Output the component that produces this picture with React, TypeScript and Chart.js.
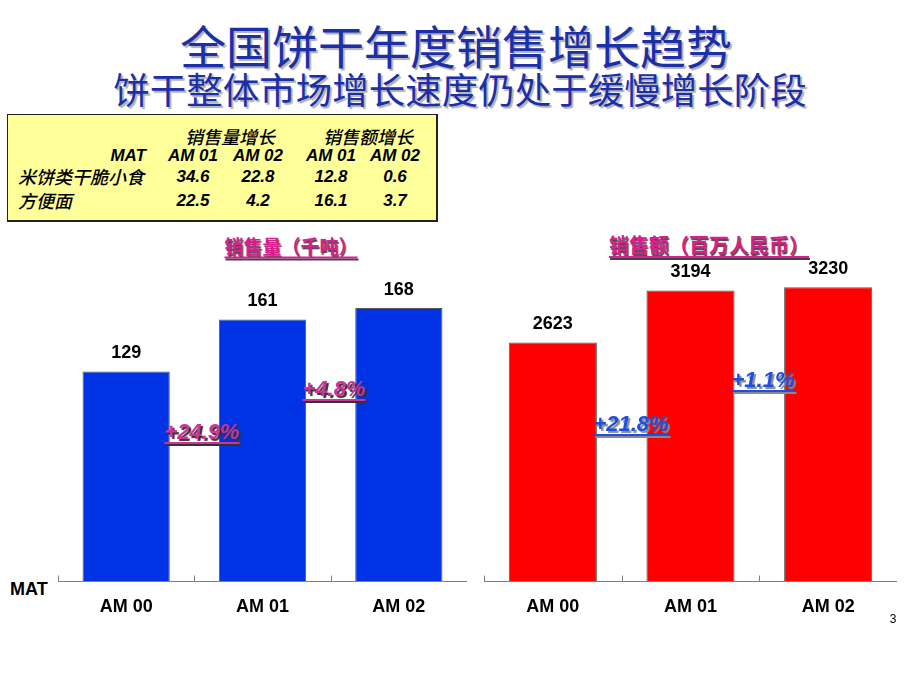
import React, { useEffect, useRef } from "react";
import { Chart, registerables } from "chart.js";

Chart.register(...registerables);

const categories = ["AM 00", "AM 01", "AM 02"];
const volumeValues = [129, 161, 168];
const salesValues = [2623, 3194, 3230];
const volumeGrowth = ["+24.9%", "+4.8%"];
const salesGrowth = ["+21.8%", "+1.1%"];

const tableGroups = ["销售量增长", "销售额增长"];
const tableColumns = ["AM 01", "AM 02", "AM 01", "AM 02"];
const tableRowLabels = ["米饼类干脆小食", "方便面"];
const riceSnackGrowth = [34.6, 22.8, 12.8, 0.6];
const noodleGrowth = [22.5, 4.2, 16.1, 3.7];

const LATIN = '"Liberation Sans", Arial, "Noto Sans CJK SC", sans-serif';
const CJK = '"Noto Sans CJK SC", "Liberation Sans", sans-serif';

const axisPlugin = {
  id: "catAxis",
  afterDatasetsDraw(chart: any) {
    const { ctx, chartArea } = chart;
    const n = chart.data.labels.length;
    const step = (chartArea.right - chartArea.left) / n;
    ctx.save();
    ctx.strokeStyle = "#808080";
    ctx.lineWidth = 1;
    ctx.beginPath();
    const y = Math.round(chartArea.bottom) + 0.5;
    ctx.moveTo(chartArea.left, y);
    ctx.lineTo(chartArea.right, y);
    for (let i = 0; i <= n; i++) {
      const x = Math.round(chartArea.left + i * step) + 0.5;
      ctx.moveTo(x, y);
      ctx.lineTo(x, y - 6);
    }
    ctx.stroke();
    ctx.restore();
  },
};

const valueLabelPlugin = {
  id: "valueLabels",
  afterDatasetsDraw(chart: any) {
    const { ctx } = chart;
    const meta = chart.getDatasetMeta(0);
    const data = chart.data.datasets[0].data;
    ctx.save();
    ctx.fillStyle = "#000";
    ctx.font = `bold 18px ${LATIN}`;
    ctx.textAlign = "center";
    ctx.textBaseline = "middle";
    meta.data.forEach((bar: any, i: number) => {
      ctx.fillText(String(data[i]), bar.x, bar.y - 18);
    });
    ctx.restore();
  },
};

function BarChart(props: {
  values: number[];
  color: string;
  max: number;
  width: number;
  height: number;
  left: number;
  top: number;
}) {
  const ref = useRef<HTMLCanvasElement | null>(null);
  useEffect(() => {
    if (!ref.current) return;
    const chart = new Chart(ref.current, {
      type: "bar",
      data: {
        labels: categories,
        datasets: [
          {
            data: props.values,
            backgroundColor: props.color,
            borderColor: "#5a5a5a",
            borderWidth: 1,
            barPercentage: 0.64,
            categoryPercentage: 1,
          },
        ],
      },
      options: {
        animation: false,
        responsive: false,
        events: [],
        layout: { padding: 0 },
        plugins: { legend: { display: false }, tooltip: { enabled: false } },
        scales: {
          x: {
            grid: { display: false, drawTicks: false },
            border: { display: false },
            ticks: {
              color: "#000",
              padding: 15,
              font: { family: LATIN, size: 18, weight: "bold" },
            },
          },
          y: { display: false, min: 0, max: props.max },
        },
      },
      plugins: [axisPlugin, valueLabelPlugin],
    } as any);
    return () => chart.destroy();
  }, []);
  return (
    <canvas
      ref={ref}
      width={props.width}
      height={props.height}
      style={{ position: "absolute", left: props.left, top: props.top }}
    />
  );
}

function Pos(props: { x: number; y: number; style?: React.CSSProperties; children: React.ReactNode; align?: string }) {
  const tx = props.align === "right" ? "-100%" : props.align === "left" ? "0" : "-50%";
  return (
    <div
      style={{
        position: "absolute",
        left: props.x,
        top: props.y,
        transform: `translate(${tx}, -50%)`,
        whiteSpace: "nowrap",
        lineHeight: 1,
        ...props.style,
      }}
    >
      {props.children}
    </div>
  );
}

export default function App() {
  const tableText: React.CSSProperties = {
    fontFamily: LATIN,
    fontSize: 17,
    fontWeight: "bold",
    fontStyle: "italic",
    color: "#000",
  };
  const tableCjk: React.CSSProperties = { ...tableText, fontFamily: CJK, fontSize: 18, fontWeight: 500 };
  const colX = [193, 258, 331, 395];
  const groupX = [230, 368];
  const pctMagenta: React.CSSProperties = {
    fontFamily: LATIN,
    fontSize: 22,
    fontWeight: "bold",
    fontStyle: "italic",
    color: "#cc3399",
    textDecoration: "underline",
    textDecorationThickness: 2,
    textUnderlineOffset: 3,
    textShadow: "2px 2px 1px #333",
  };
  const pctBlue: React.CSSProperties = {
    ...pctMagenta,
    color: "#1f4fe0",
    textShadow: "2px 2px 1px #8a8a8a",
  };
  const chartTitle: React.CSSProperties = {
    fontFamily: CJK,
    fontSize: 19,
    fontWeight: "bold",
    color: "#d81f8f",
    textDecoration: "underline",
    textDecorationThickness: 2,
    textUnderlineOffset: 3,
    textShadow: "1px 2px 1px #444",
  };
  return (
    <div
      style={{
        position: "absolute",
        left: 0,
        top: 0,
        width: 920,
        height: 690,
        background: "#fff",
        overflow: "hidden",
        fontFamily: LATIN,
      }}
    >
      <Pos x={456} y={44} style={{ fontFamily: CJK, fontSize: 46, fontWeight: 400, color: "#1a2fa8", textShadow: "2px 2px 1px #b0b0b0" }}>
        全国饼干年度销售增长趋势
      </Pos>
      <Pos x={460} y={89} style={{ fontFamily: CJK, fontSize: 36.5, fontWeight: 400, color: "#1a2fa8", textShadow: "2px 2px 1px #b0b0b0" }}>
        饼干整体市场增长速度仍处于缓慢增长阶段
      </Pos>

      <div
        style={{
          position: "absolute",
          left: 7,
          top: 114,
          width: 428,
          height: 105,
          background: "#ffff99",
          border: "1px solid #222",
          borderRightWidth: 2,
          borderBottomWidth: 2,
        }}
      />
      {tableGroups.map((g, i) => (
        <Pos key={g} x={groupX[i]} y={136} style={tableCjk}>
          {g}
        </Pos>
      ))}
      <Pos x={146} y={155} align="right" style={tableText}>
        MAT
      </Pos>
      {tableColumns.map((c, i) => (
        <Pos key={i} x={colX[i]} y={155} style={tableText}>
          {c}
        </Pos>
      ))}
      <Pos x={18} y={176} align="left" style={tableCjk}>
        {tableRowLabels[0]}
      </Pos>
      {riceSnackGrowth.map((v, i) => (
        <Pos key={i} x={colX[i]} y={176} style={tableText}>
          {v.toFixed(1)}
        </Pos>
      ))}
      <Pos x={18} y={200} align="left" style={tableCjk}>
        {tableRowLabels[1]}
      </Pos>
      {noodleGrowth.map((v, i) => (
        <Pos key={i} x={colX[i]} y={200} style={tableText}>
          {v.toFixed(1)}
        </Pos>
      ))}

      <Pos x={291} y={245} style={chartTitle}>
        销售量（千吨）
      </Pos>
      <Pos x={709} y={245} style={{ ...chartTitle, fontSize: 20 }}>
        销售额（百万人民币）
      </Pos>

      <BarChart values={volumeValues} color="#0033e6" max={200} width={409} height={377} left={58} top={256} />
      <BarChart values={salesValues} color="#ff0000" max={4000} width={413} height={416} left={484} top={217} />

      <Pos x={202} y={432} style={pctMagenta}>
        {volumeGrowth[0]}
      </Pos>
      <Pos x={334} y={389} style={pctMagenta}>
        {volumeGrowth[1]}
      </Pos>
      <Pos x={631} y={424} style={pctBlue}>
        {salesGrowth[0]}
      </Pos>
      <Pos x={763} y={380} style={pctBlue}>
        {salesGrowth[1]}
      </Pos>

      <Pos x={10} y={589} align="left" style={{ fontFamily: LATIN, fontSize: 18, fontWeight: "bold", color: "#000" }}>
        MAT
      </Pos>
      <Pos x={893} y={619} style={{ fontFamily: LATIN, fontSize: 12, color: "#000" }}>
        3
      </Pos>
    </div>
  );
}
